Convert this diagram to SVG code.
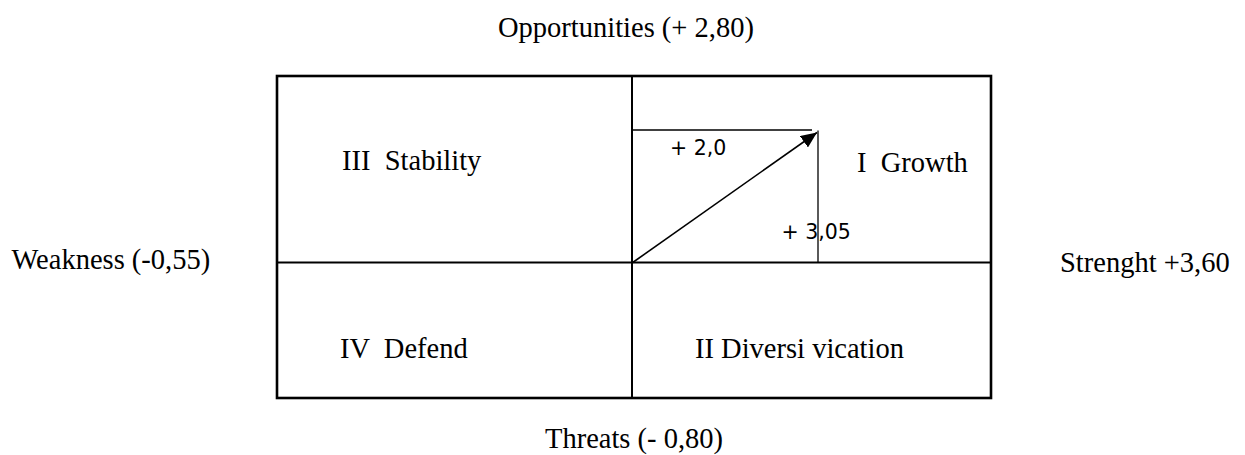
<svg xmlns="http://www.w3.org/2000/svg" width="1245" height="455" viewBox="0 0 1245 455">
  <style>
    .serif { font-family: "Liberation Serif", "Times New Roman", serif; font-size: 28.5px; fill: #000; }
    .sans { font-family: "DejaVu Sans", "Liberation Sans", sans-serif; font-size: 20.5px; fill: #000; }
    .frame { fill: none; stroke: #000; stroke-width: 2.6; }
    .axis { stroke: #000; stroke-width: 2; }
    .comp { stroke: #000; stroke-width: 1.3; fill: none; }
    .vec { stroke: #000; stroke-width: 1.6; fill: none; }
  </style>
  <defs>
    <marker id="arrowBig" viewBox="0 0 16 14" refX="16" refY="7" markerWidth="16" markerHeight="14" markerUnits="userSpaceOnUse" orient="auto">
      <path d="M0,0 L16,7 L0,14 Z" fill="#000"/>
    </marker>
  </defs>

  <g id="matrix">
    <rect class="frame" x="277" y="76" width="714" height="322"/>
    <line class="axis" x1="632" y1="76" x2="632" y2="398"/>
    <line class="axis" x1="277" y1="262.5" x2="991" y2="262.5"/>
  </g>

  <g id="quadrant-III"><text class="serif" x="342" y="170" xml:space="preserve">III  Stability</text></g>
  <g id="quadrant-I"><text class="serif" x="857" y="171.5" xml:space="preserve">I  Growth</text></g>
  <g id="quadrant-IV"><text class="serif" x="340" y="358" xml:space="preserve">IV  Defend</text></g>
  <g id="quadrant-II"><text class="serif" x="695" y="358">II Diversi vication</text></g>

  <g id="label-opportunities"><text class="serif" x="498" y="36.5">Opportunities (+ 2,80)</text></g>
  <g id="label-threats"><text class="serif" x="545" y="448">Threats (- 0,80)</text></g>
  <g id="label-weakness"><text class="serif" x="11.5" y="268.5">Weakness (-0,55)</text></g>
  <g id="label-strength"><text class="serif" x="1060" y="271.5">Strenght +3,60</text></g>

  <g id="connectors">
    <line class="comp" x1="632" y1="130" x2="812" y2="130"/>
    <line class="comp" x1="818" y1="130.5" x2="818" y2="262.5"/>
    <line class="vec" x1="632" y1="263" x2="817" y2="132.5" marker-end="url(#arrowBig)"/>
  </g>

  <g id="value-labels">
    <text class="sans" x="670" y="155">+ 2,0</text>
    <text class="sans" x="781.5" y="239">+ 3,05</text>
  </g>
</svg>
